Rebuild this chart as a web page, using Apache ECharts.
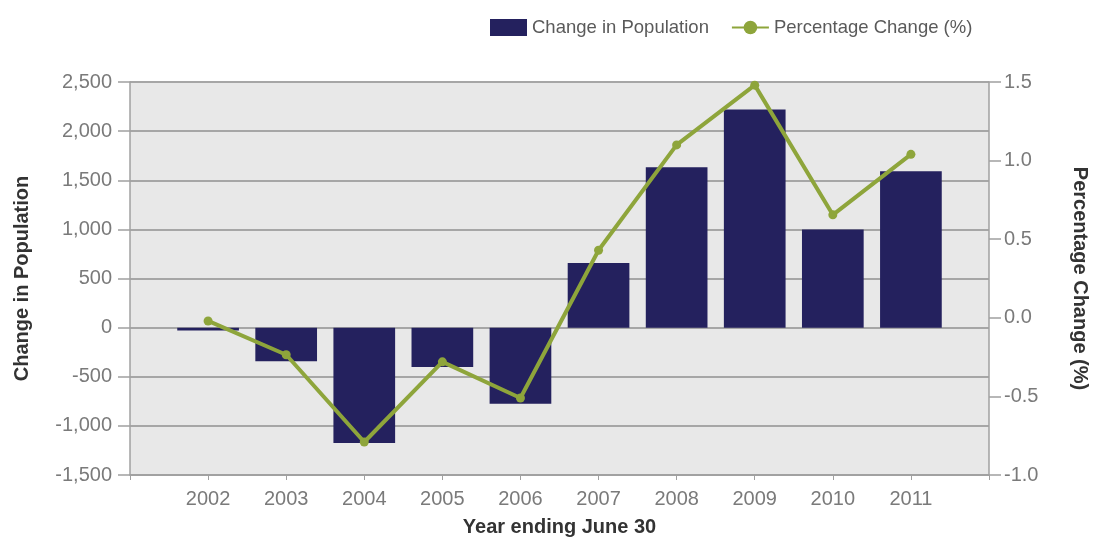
<!DOCTYPE html>
<html>
<head>
<meta charset="utf-8">
<script src="https://cdn.jsdelivr.net/npm/echarts@6/dist/echarts.min.js"></script>
<style>
  html, body { margin: 0; padding: 0; background: #ffffff; }
  #chart { width: 1098px; height: 549px; }
</style>
</head>
<body>
<div id="chart"></div>
<script>
// Annual population change (left axis) and percentage change (right axis)
const years = ['2002', '2003', '2004', '2005', '2006', '2007', '2008', '2009', '2010', '2011'];
const populationChange = [-30, -343, -1174, -400, -774, 659, 1632, 2220, 998, 1592];
const percentChange = [-0.02, -0.235, -0.79, -0.28, -0.51, 0.43, 1.10, 1.48, 0.655, 1.04];

const leftTicks = { min: -1500, max: 2500, interval: 500 };
const rightTicks = { min: -1.0, max: 1.5, interval: 0.5 };

// Pad the category axis with an empty slot on each side so the years sit inset from the plot edges
const axisCategories = [''].concat(years, ['']);
const barData = [null].concat(populationChange, [null]);
const lineData = [null].concat(percentChange, [null]);

const labelFont = { fontFamily: 'Liberation Sans, Arial, sans-serif', fontSize: 20, color: '#7a7a7a' };
const titleFont = { fontFamily: 'Liberation Sans, Arial, sans-serif', fontSize: 20, fontWeight: 'bold', color: '#333333' };

const chart = echarts.init(document.getElementById('chart'), null, { renderer: 'canvas' });
chart.setOption({
  animation: false,
  backgroundColor: '#ffffff',
  legend: {
    left: 485,
    top: 13,
    itemWidth: 37,
    itemHeight: 17,
    itemGap: 22,
    textStyle: { fontFamily: 'Liberation Sans, Arial, sans-serif', fontSize: 18.5, color: '#5a5a5a' },
    data: [
      { name: 'Change in Population', icon: 'rect' },
      { name: 'Percentage Change (%)' }
    ]
  },
  grid: {
    left: 130, right: 108, top: 82, bottom: 74,
    show: true, backgroundColor: '#e8e8e8', borderWidth: 0
  },
  xAxis: {
    type: 'category',
    data: axisCategories,
    boundaryGap: false,
    name: 'Year ending June 30',
    nameLocation: 'middle',
    nameGap: 42,
    nameTextStyle: titleFont,
    axisLine: { onZero: false, lineStyle: { color: '#a0a0a0', width: 1.5 } },
    axisTick: { alignWithLabel: true, length: 5, lineStyle: { color: '#a0a0a0' } },
    axisLabel: Object.assign({ margin: 14, interval: 0 }, labelFont),
    splitLine: { show: false }
  },
  yAxis: [
    {
      type: 'value',
      position: 'left',
      min: leftTicks.min, max: leftTicks.max, interval: leftTicks.interval,
      name: 'Change in Population',
      nameLocation: 'middle',
      nameGap: 98,
      nameRotate: 90,
      nameTextStyle: titleFont,
      axisLine: { show: true, lineStyle: { color: '#a0a0a0', width: 1.5 } },
      axisTick: { show: true, length: 12, lineStyle: { color: '#a0a0a0', width: 1.5 } },
      axisLabel: Object.assign({
        margin: 18,
        formatter: v => v.toLocaleString('en-US')
      }, labelFont),
      splitLine: { show: true, lineStyle: { color: '#a6a6a6', width: 2 } }
    },
    {
      type: 'value',
      position: 'right',
      min: rightTicks.min, max: rightTicks.max, interval: rightTicks.interval,
      name: 'Percentage Change (%)',
      nameLocation: 'middle',
      nameGap: 81,
      nameRotate: -90,
      nameTextStyle: titleFont,
      axisLine: { show: true, lineStyle: { color: '#a0a0a0', width: 1.5 } },
      axisTick: { show: true, length: 12, lineStyle: { color: '#a0a0a0', width: 1.5 } },
      axisLabel: Object.assign({
        margin: 15,
        formatter: v => v.toFixed(1)
      }, labelFont),
      splitLine: { show: false }
    }
  ],
  series: [
    {
      name: 'Change in Population',
      type: 'bar',
      yAxisIndex: 0,
      data: barData,
      barWidth: '79%',
      itemStyle: { color: '#24215e' }
    },
    {
      name: 'Percentage Change (%)',
      type: 'line',
      yAxisIndex: 1,
      data: lineData,
      symbol: 'circle',
      symbolSize: 9,
      lineStyle: { color: '#8ea53b', width: 4 },
      itemStyle: { color: '#8ea53b' }
    }
  ]
});
</script>
</body>
</html>
